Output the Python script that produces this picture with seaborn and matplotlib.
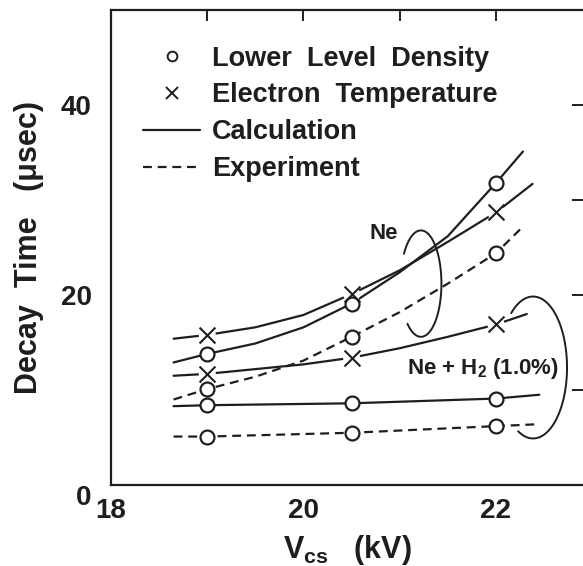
import numpy as np
import matplotlib
matplotlib.use("Agg")
import matplotlib.pyplot as plt
import seaborn as sns
from matplotlib.lines import Line2D
from matplotlib.transforms import ScaledTranslation

# ---------------- data ----------------
vcs_points = [19.0, 20.5, 22.0]
ne_lld_calc = [13.8, 19.1, 31.8]      # Ne, lower level density, calculation (circles)
ne_te_calc = [15.8, 20.1, 28.7]       # Ne, electron temperature, calculation (crosses)
ne_lld_exp = [10.1, 15.6, 24.4]       # Ne, lower level density, experiment (circles)
neh2_te_calc = [11.7, 13.4, 16.9]     # Ne+H2, electron temperature, calculation
neh2_lld_calc = [8.4, 8.6, 9.1]       # Ne+H2, lower level density, calculation
neh2_lld_exp = [5.1, 5.5, 6.2]        # Ne+H2, lower level density, experiment

ne_lld_calc_x = [18.65, 19.0, 19.5, 20.0, 20.5, 21.0, 21.5, 22.0, 22.28]
ne_lld_calc_y = [12.9, 13.8, 14.9, 16.6, 19.1, 22.4, 26.2, 31.8, 35.1]
ne_te_calc_x = [18.65, 19.0, 19.5, 20.0, 20.5, 21.0, 21.5, 22.0, 22.38]
ne_te_calc_y = [15.4, 15.8, 16.6, 17.9, 20.1, 22.6, 25.6, 28.7, 31.7]
ne_lld_exp_x = [18.65, 19.0, 19.5, 20.0, 20.5, 21.0, 21.5, 22.0, 22.25]
ne_lld_exp_y = [9.0, 10.1, 11.4, 13.1, 15.6, 18.2, 21.2, 24.4, 26.9]
neh2_te_calc_x = [18.65, 19.0, 19.5, 20.0, 20.5, 21.0, 21.5, 22.0, 22.32]
neh2_te_calc_y = [11.5, 11.7, 12.2, 12.7, 13.4, 14.4, 15.6, 16.9, 18.0]
neh2_lld_calc_x = [18.65, 19.0, 20.5, 22.0, 22.45]
neh2_lld_calc_y = [8.3, 8.4, 8.6, 9.1, 9.5]
neh2_lld_exp_x = [18.65, 19.0, 20.5, 22.0, 22.44]
neh2_lld_exp_y = [5.1, 5.1, 5.5, 6.2, 6.4]

x_ticks = [18, 19, 20, 21, 22]
x_tick_labels = ["18", "", "20", "", "22"]
y_ticks = [0, 10, 20, 30, 40]
y_tick_labels = ["0", "", "20", "", "40"]

legend_labels = ["Lower  Level  Density", "Electron  Temperature",
                 "Calculation", "Experiment"]

# ---------------- style ----------------
sns.set_theme(style="white")
FONT = ["Liberation Sans", "DejaVu Sans"]
plt.rcParams["font.family"] = FONT
plt.rcParams["font.weight"] = "bold"
plt.rcParams["mathtext.fontset"] = "custom"
plt.rcParams["mathtext.rm"] = "Liberation Sans:bold"
plt.rcParams["mathtext.it"] = "Liberation Sans:bold"
plt.rcParams["mathtext.bf"] = "Liberation Sans:bold"

INK = "#1e1e1e"
DASH = (0, (4, 2.6))
LW = 1.6

fig = plt.figure(figsize=(5.83, 5.66), dpi=100)
ax = fig.add_axes([0.1904, 0.1431, 0.8096, 0.8392])

# curves
for xs, ys, ls in [
    (ne_lld_calc_x, ne_lld_calc_y, "-"),
    (ne_te_calc_x, ne_te_calc_y, "-"),
    (ne_lld_exp_x, ne_lld_exp_y, DASH),
    (neh2_te_calc_x, neh2_te_calc_y, "-"),
    (neh2_lld_calc_x, neh2_lld_calc_y, "-"),
    (neh2_lld_exp_x, neh2_lld_exp_y, DASH),
]:
    sns.lineplot(x=xs, y=ys, ax=ax, color=INK, linewidth=LW, linestyle=ls,
                 estimator=None, sort=False, zorder=2)

# circle markers
for ys in [ne_lld_calc, ne_lld_exp, neh2_lld_calc, neh2_lld_exp]:
    sns.scatterplot(x=vcs_points, y=ys, ax=ax, marker="o", s=100,
                    color="white", edgecolor=INK, linewidth=1.6, zorder=4)
# cross markers
for ys in [ne_te_calc, neh2_te_calc]:
    sns.scatterplot(x=vcs_points, y=ys, ax=ax, marker="o", s=150,
                    color="white", edgecolor="none", linewidth=0, zorder=3)
    sns.scatterplot(x=vcs_points, y=ys, ax=ax, marker="x", s=130,
                    color=INK, linewidth=1.5, zorder=4)

# brackets (hand-drawn arcs)
def arc(cx, cy, a, b, t1, t2):
    t = np.deg2rad(np.linspace(t1, t2, 120))
    ax.plot(cx + a * np.cos(t), cy + b * np.sin(t), color=INK, lw=1.4, zorder=2)

arc(21.22, 21.2, 0.213, 5.6, -131, 146)
arc(22.385, 12.37, 0.353, 7.47, -116, 130)

ax.text(20.83, 26.5, "Ne", ha="center", va="center", fontsize=16,
        fontweight="bold", color=INK)
ax.text(21.86, 12.3, r"Ne + H$_2$ (1.0%)", ha="center", va="center",
        fontsize=16, fontweight="bold", color=INK)

# axes
ax.set_xlim(18, 22.904)
ax.set_ylim(0, 50)
ax.set_xticks(x_ticks)
ax.set_xticklabels(x_tick_labels)
ax.set_yticks(y_ticks)
ax.set_yticklabels(y_tick_labels)
ax.tick_params(axis="both", direction="in", length=8, width=1.4, colors=INK,
               labelsize=20, top=True, right=True, labelcolor=INK)
ax.tick_params(axis="x", pad=9)
ax.tick_params(axis="y", pad=14)
for lab in ax.get_xticklabels() + ax.get_yticklabels():
    lab.set_fontweight("bold")

for s in ["left", "bottom", "top"]:
    ax.spines[s].set_linewidth(1.6)
    ax.spines[s].set_color(INK)
ax.spines["right"].set_visible(False)

# shift the "0" label toward the corner
ylabs = ax.get_yticklabels()
ylabs[0].set_transform(ylabs[0].get_transform() +
                       ScaledTranslation(0.0, -0.10, fig.dpi_scale_trans))

ax.set_ylabel("Decay  Time   (\u03bcsec)", fontsize=22, fontweight="bold", color=INK)
ax.yaxis.set_label_coords(-0.143, 0.5)
ax.set_xlabel(r"V$_{\rm cs}$   (kV)", fontsize=22, fontweight="bold", color=INK)
ax.xaxis.set_label_coords(0.5, -0.10)

# legend
handles = [
    Line2D([], [], marker="o", ls="none", mfc="white", mec=INK, ms=7, mew=1.4),
    Line2D([], [], marker="x", ls="none", color=INK, ms=8.5, mew=1.4),
    Line2D([], [], ls="-", color=INK, lw=LW),
    Line2D([], [], ls=DASH, color=INK, lw=LW),
]
leg = ax.legend(handles, legend_labels, loc="upper left",
                bbox_to_anchor=(0.068, 0.925), frameon=False,
                borderpad=0, borderaxespad=0, handlelength=2.1,
                handletextpad=0.45, labelspacing=0.40,
                prop={"family": FONT, "weight": "bold", "size": 19.5})
for t in leg.get_texts():
    t.set_color(INK)

fig.savefig("out.png", dpi=100)
